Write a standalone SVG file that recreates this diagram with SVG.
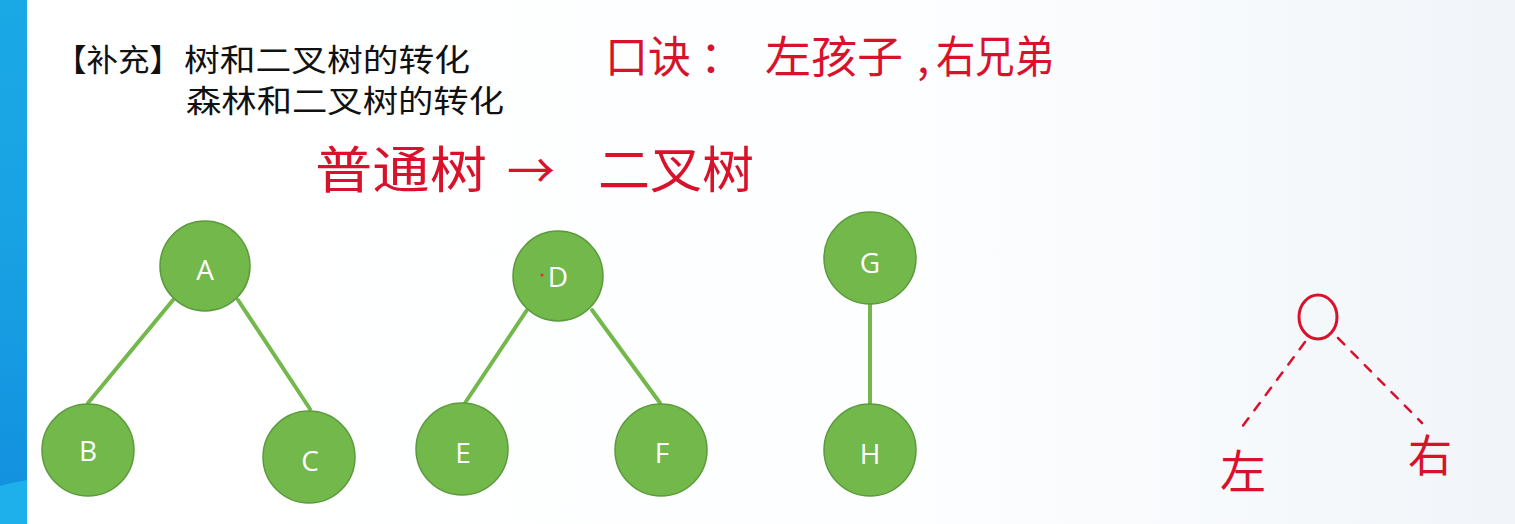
<svg xmlns="http://www.w3.org/2000/svg" width="1515" height="524" viewBox="0 0 1515 524">
  <defs>
    <linearGradient id="bg" x1="0" y1="0" x2="1" y2="0">
      <stop offset="0" stop-color="#ffffff"/>
      <stop offset="0.6" stop-color="#fdfeff"/>
      <stop offset="1" stop-color="#f1f5f9"/>
    </linearGradient>
    <linearGradient id="strip" x1="0" y1="0" x2="0" y2="1">
      <stop offset="0" stop-color="#1ba9e6"/>
      <stop offset="0.5" stop-color="#18a0e3"/>
      <stop offset="1" stop-color="#128fde"/>
    </linearGradient>
    <style>
      .node { fill: #72b84b; stroke: #5c9a3c; stroke-width: 1.5; }
      .lbl { font-family: "Open Sans", "Liberation Sans", sans-serif; font-size: 28px; fill: #ffffff; text-anchor: middle; }
      .edge { stroke: #72b84b; stroke-width: 4; stroke-linecap: round; fill: none; }
      .hdr { font-family: "Noto Sans CJK SC", sans-serif; font-size: 31px; fill: #111111; }
      .red { font-family: "Noto Sans CJK SC", sans-serif; fill: #d8122b; }
      .dash { stroke: #d8122b; stroke-width: 2.5; stroke-dasharray: 9 10; fill: none; stroke-linecap: round; }
    </style>
  </defs>

  <rect x="0" y="0" width="1515" height="524" fill="url(#bg)"/>
  <rect x="0" y="0" width="27" height="524" fill="url(#strip)"/>
  <path d="M0 486 Q14 482 27 480 L27 524 L0 524 Z" fill="#1db0ea"/>

  <g id="header">
    <text class="hdr" x="55" y="71" textLength="126" lengthAdjust="spacingAndGlyphs">【补充】</text>
    <text class="hdr" x="184" y="71" textLength="286" lengthAdjust="spacingAndGlyphs">树和二叉树的转化</text>
    <text class="hdr" x="186" y="112" textLength="318" lengthAdjust="spacingAndGlyphs">森林和二叉树的转化</text>
  </g>

  <g id="mnemonic">
    <text class="red" font-size="44" x="605" y="73" textLength="86" lengthAdjust="spacingAndGlyphs">口诀</text>
    <text class="red" font-size="44" x="700" y="73">：</text>
    <text class="red" font-size="44" x="765" y="73" textLength="138" lengthAdjust="spacingAndGlyphs">左孩子</text>
    <text class="red" font-size="44" x="917" y="73">,</text>
    <text class="red" font-size="44" x="936" y="73" textLength="118" lengthAdjust="spacingAndGlyphs">右兄弟</text>
  </g>

  <g id="subtitle">
    <text class="red" font-size="50" x="315" y="188" textLength="172" lengthAdjust="spacingAndGlyphs">普通树</text>
    <text class="red" font-size="48" x="507" y="188">→</text>
    <text class="red" font-size="50" x="598" y="188" textLength="156" lengthAdjust="spacingAndGlyphs">二叉树</text>
  </g>

  <g id="connectors">
    <line class="edge" x1="173" y1="300" x2="88" y2="403"/>
    <line class="edge" x1="238" y1="300" x2="310" y2="409"/>
    <line class="edge" x1="527" y1="310" x2="465" y2="403"/>
    <line class="edge" x1="592" y1="310" x2="660" y2="403"/>
    <line class="edge" x1="870" y1="303" x2="870" y2="404"/>
  </g>

  <g id="node-A"><circle class="node" cx="205" cy="266" r="45"/><text class="lbl" x="205" y="280">A</text></g>
  <g id="node-B"><circle class="node" cx="88" cy="450" r="46"/><text class="lbl" x="88" y="461">B</text></g>
  <g id="node-C"><circle class="node" cx="309" cy="457" r="46"/><text class="lbl" x="310" y="471">C</text></g>
  <g id="node-D"><circle class="node" cx="558" cy="276" r="45"/><text class="lbl" x="558" y="287">D</text><circle cx="542" cy="275" r="1.6" fill="#e0303a"/></g>
  <g id="node-E"><circle class="node" cx="462" cy="449" r="46"/><text class="lbl" x="463" y="463">E</text></g>
  <g id="node-F"><circle class="node" cx="661" cy="450" r="46"/><text class="lbl" x="662" y="463">F</text></g>
  <g id="node-G"><circle class="node" cx="870" cy="258" r="46"/><text class="lbl" x="870" y="273">G</text></g>
  <g id="node-H"><circle class="node" cx="870" cy="450" r="46"/><text class="lbl" x="870" y="464">H</text></g>

  <g id="sketch-connectors">
    <line class="dash" x1="1305" y1="342" x2="1242" y2="427"/>
    <line class="dash" x1="1338" y1="338" x2="1422" y2="423"/>
  </g>
  <g id="sketch-root">
    <ellipse cx="1318" cy="317" rx="19" ry="22" fill="none" stroke="#d8122b" stroke-width="3"/>
  </g>
  <g id="sketch-left">
    <text class="red" font-size="46" x="1220" y="488">左</text>
  </g>
  <g id="sketch-right">
    <text class="red" font-size="44" x="1408" y="472">右</text>
  </g>
</svg>
